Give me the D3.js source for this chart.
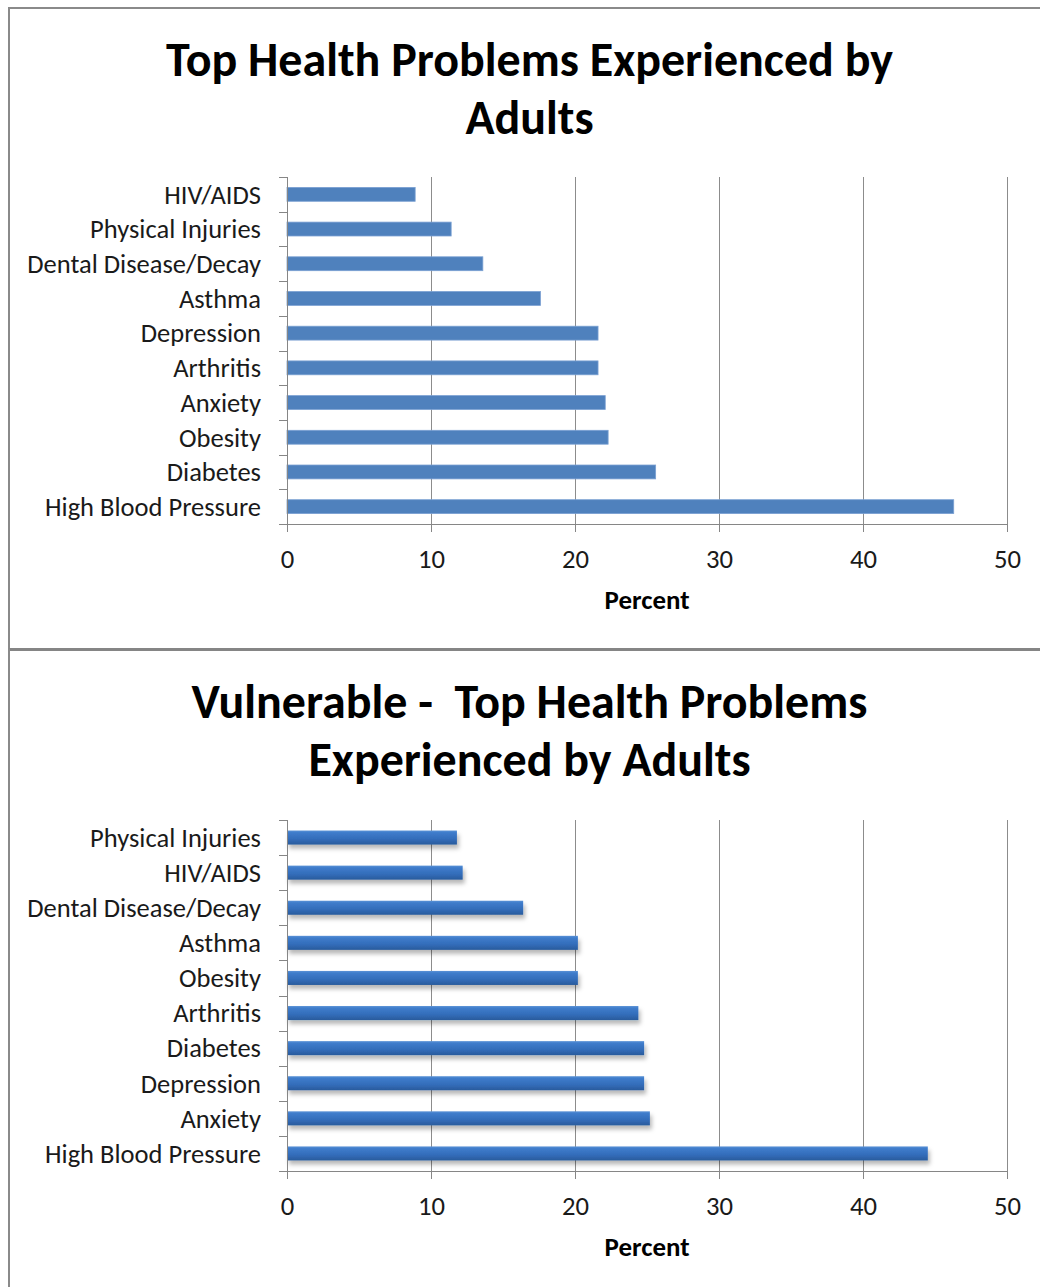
<!DOCTYPE html>
<html>
<head>
<meta charset="utf-8">
<script src="https://cdn.jsdelivr.net/npm/d3@7"></script>
<style>
  html, body { margin: 0; padding: 0; background: #fff; }
  svg { display: block; }
  text { font-family: Carlito, Lato, "Open Sans", sans-serif; }
</style>
</head>
<body>
<svg id="chart" width="1040" height="1287"></svg>
<script>
// ---- data ----
const xTicks = [0, 10, 20, 30, 40, 50];

const topTitle = ["Top Health Problems Experienced by", "Adults"];
const topCategories = ["HIV/AIDS", "Physical Injuries", "Dental Disease/Decay", "Asthma", "Depression",
  "Arthritis", "Anxiety", "Obesity", "Diabetes", "High Blood Pressure"];
const topValues = [8.9, 11.4, 13.6, 17.6, 21.6, 21.6, 22.1, 22.3, 25.6, 46.3];

const bottomTitle = ["Vulnerable -  Top Health Problems", "Experienced by Adults"];
const bottomCategories = ["Physical Injuries", "HIV/AIDS", "Dental Disease/Decay", "Asthma", "Obesity",
  "Arthritis", "Diabetes", "Depression", "Anxiety", "High Blood Pressure"];
const bottomValues = [11.8, 12.2, 16.4, 20.2, 20.2, 24.4, 24.8, 24.8, 25.2, 44.5];

const axisTitle = "Percent";

// ---- drawing ----
const svg = d3.select("#chart");
const defs = svg.append("defs");

const grad = defs.append("linearGradient").attr("id", "barGrad")
  .attr("x1", 0).attr("y1", 0).attr("x2", 0).attr("y2", 1);
grad.append("stop").attr("offset", "0%").attr("stop-color", "#5a92d6");
grad.append("stop").attr("offset", "15%").attr("stop-color", "#3f7ccb");
grad.append("stop").attr("offset", "60%").attr("stop-color", "#336dba");
grad.append("stop").attr("offset", "100%").attr("stop-color", "#2a5b9c");

const shadow = defs.append("filter").attr("id", "shadow")
  .attr("x", "-5%").attr("y", "-50%").attr("width", "115%").attr("height", "250%");
shadow.append("feDropShadow").attr("dx", 2).attr("dy", 4).attr("stdDeviation", 2.2)
  .attr("flood-color", "#000").attr("flood-opacity", 0.28);

// measuring helper
const measurer = svg.append("text").attr("x", -9999).attr("y", -9999);
function fitSize(str, weight, targetWidth) {
  measurer.attr("font-size", 100).attr("font-weight", weight).style("white-space", "pre").text(str);
  const w = measurer.node().getComputedTextLength();
  return 100 * targetWidth / w;
}

const titleSize = fitSize(topTitle[0], "bold", 727);
const labelSize = fitSize("High Blood Pressure", "normal", 216);
const tickSize = fitSize("50", "normal", 27) ;
const axisTitleSize = fitSize(axisTitle, "bold", 85);

// frames
svg.append("rect").attr("x", 9).attr("y", 8).attr("width", 1040).attr("height", 641)
  .attr("fill", "none").attr("stroke", "#8a8a8a").attr("stroke-width", 2);
svg.append("line").attr("x1", 9).attr("x2", 1040).attr("y1", 649.5).attr("y2", 649.5)
  .attr("stroke", "#858585").attr("stroke-width", 3);
svg.append("line").attr("x1", 9).attr("x2", 9).attr("y1", 649).attr("y2", 1287)
  .attr("stroke", "#8a8a8a").attr("stroke-width", 2);

function drawChart(cfg) {
  const g = svg.append("g");
  const x = d3.scaleLinear().domain([0, 50]).range([287, 1007]);
  const y = d3.scaleBand().domain(cfg.categories).range([cfg.top, cfg.bottom]).paddingInner(0.6).paddingOuter(0.3);
  const yb = d3.scaleBand().domain(cfg.categories).range([cfg.top, cfg.bottom]);

  // title
  cfg.title.forEach((t, i) => {
    g.append("text").attr("x", 529.5).attr("y", cfg.titleY + i * 58)
      .attr("text-anchor", "middle").attr("font-weight", "bold")
      .attr("font-size", titleSize).attr("fill", "#000")
      .style("white-space", "pre").text(t);
  });

  // gridlines
  g.selectAll(".grid").data(xTicks.slice(1)).join("line")
    .attr("x1", d => x(d) + 0.5).attr("x2", d => x(d) + 0.5)
    .attr("y1", cfg.top).attr("y2", cfg.bottom)
    .attr("stroke", "#8c8c8c").attr("stroke-width", 1);

  // bars
  const bars = g.selectAll(".bar").data(cfg.categories.map((c, i) => ({ c, v: cfg.values[i] }))).join("rect")
    .attr("x", x(0)).attr("y", d => y(d.c)).attr("width", d => x(d.v) - x(0)).attr("height", y.bandwidth());
  if (cfg.fancy) {
    bars.attr("fill", "url(#barGrad)").attr("filter", "url(#shadow)");
  } else {
    bars.attr("fill", "#4f81bd").attr("stroke", "#7aa0d2").attr("stroke-width", 0.8);
  }

  // y axis line and ticks
  g.append("line").attr("x1", x(0) + 0.5).attr("x2", x(0) + 0.5).attr("y1", cfg.top).attr("y2", cfg.bottom + 8)
    .attr("stroke", "#868686");
  const bounds = cfg.categories.map(c => yb(c)).concat([cfg.bottom]);
  g.selectAll(".ytick").data(bounds).join("line")
    .attr("x1", x(0) - 8).attr("x2", x(0)).attr("y1", d => Math.round(d) + 0.5).attr("y2", d => Math.round(d) + 0.5)
    .attr("stroke", "#868686");

  // x axis line and ticks
  g.append("line").attr("x1", x(0) - 8).attr("x2", x(50) + 0.5).attr("y1", cfg.bottom + 0.5).attr("y2", cfg.bottom + 0.5)
    .attr("stroke", "#868686");
  g.selectAll(".xtick").data(xTicks).join("line")
    .attr("x1", d => x(d) + 0.5).attr("x2", d => x(d) + 0.5)
    .attr("y1", cfg.bottom).attr("y2", cfg.bottom + 8).attr("stroke", "#868686");

  // tick labels
  g.selectAll(".xlab").data(xTicks).join("text")
    .attr("x", d => x(d) + 0.5).attr("y", cfg.bottom + 35).attr("dy", "0.35em")
    .attr("text-anchor", "middle").attr("font-size", tickSize).attr("fill", "#1a1a1a")
    .text(d => d);

  g.selectAll(".ylab").data(cfg.categories).join("text")
    .attr("x", 261).attr("y", d => yb(d) + yb.bandwidth() / 2).attr("dy", "0.35em")
    .attr("text-anchor", "end").attr("font-size", labelSize).attr("fill", "#1a1a1a")
    .text(d => d);

  g.append("text").attr("x", 647).attr("y", cfg.bottom + 76).attr("dy", "0.35em")
    .attr("text-anchor", "middle").attr("font-weight", "bold").attr("font-size", axisTitleSize)
    .attr("fill", "#000").text(axisTitle);
}

drawChart({ title: topTitle, titleY: 76, categories: topCategories, values: topValues, top: 177, bottom: 524, fancy: false });
drawChart({ title: bottomTitle, titleY: 718, categories: bottomCategories, values: bottomValues, top: 820, bottom: 1171, fancy: true });

measurer.remove();
</script>
</body>
</html>
